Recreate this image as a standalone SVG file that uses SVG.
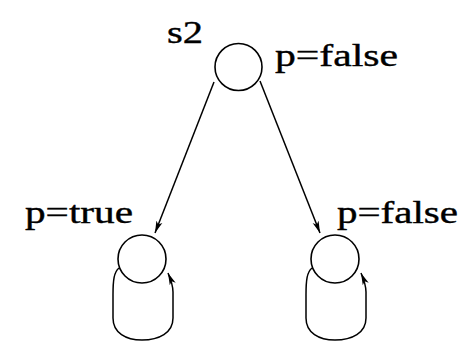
<svg xmlns="http://www.w3.org/2000/svg" width="463" height="341" viewBox="0 0 463 341">
<style>
.st{fill:none;stroke:#000;stroke-width:1.6}
.lbl{font-family:"Liberation Serif","Times New Roman",serif;font-size:32px;fill:#000;stroke:#000;stroke-width:0.4}
.e{fill:none;stroke:#000;stroke-width:1.5}
</style>
<defs>
<marker id="ah" viewBox="0 0 12 8" refX="12" refY="4" markerWidth="12" markerHeight="8" markerUnits="userSpaceOnUse" orient="auto">
<path d="M0,0.8 L12,4 L0,7.2 L3,4 Z" fill="#000"/>
</marker>
</defs>
<rect width="463" height="341" fill="#fff"/>
<g id="s2">
<circle class="st" cx="238.5" cy="67" r="23.5"/>
<text class="lbl" x="167" y="43" textLength="36" lengthAdjust="spacingAndGlyphs">s2</text>
<text class="lbl" x="275" y="66" textLength="123" lengthAdjust="spacingAndGlyphs">p=false</text>
</g>
<g id="s_true">
<circle class="st" cx="142" cy="259" r="24"/>
<text class="lbl" x="25" y="223" textLength="108" lengthAdjust="spacingAndGlyphs">p=true</text>
</g>
<g id="s_false">
<circle class="st" cx="335" cy="259" r="24"/>
<text class="lbl" x="337" y="223" textLength="121" lengthAdjust="spacingAndGlyphs">p=false</text>
</g>
<g id="connectors">
<line class="e" x1="214" y1="82" x2="155" y2="233" marker-end="url(#ah)"/>
<line class="e" x1="260" y1="81" x2="320" y2="233" marker-end="url(#ah)"/>
<path class="e" d="M119,268 C114,272 113,280 113,295 L113,318 C113,333 126,340 142,340 C159,340 173,333 173,318 L173,292 C173,285 171,280 168,273" marker-end="url(#ah)"/>
<path class="e" d="M312,268 C307,272 306,280 306,295 L306,318 C306,333 319,340 335,340 C352,340 366,333 366,318 L366,292 C366,285 364,280 361,273" marker-end="url(#ah)"/>
</g>
</svg>
